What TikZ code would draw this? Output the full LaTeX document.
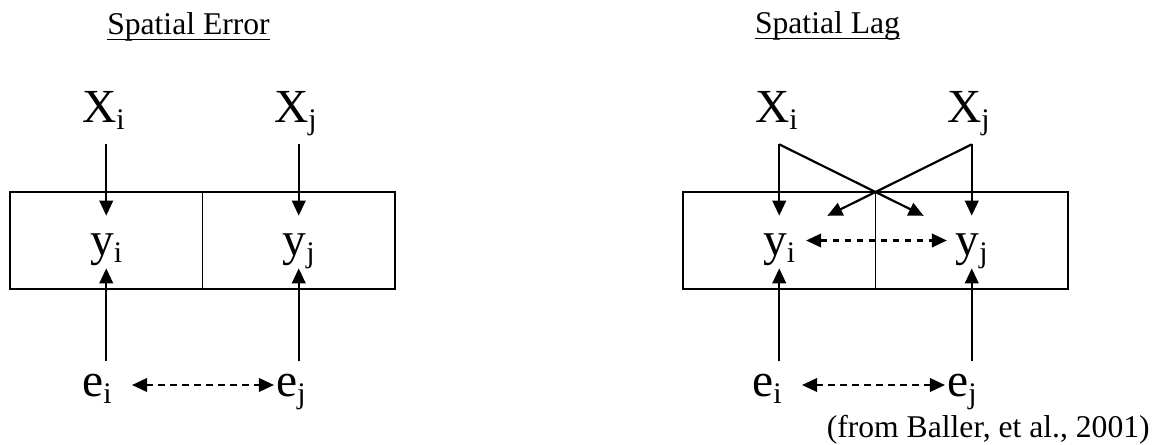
\documentclass[tikz,border=0pt]{standalone}
\usepackage{fontspec}
\setmainfont{Liberation Serif}
\usetikzlibrary{arrows.meta,positioning,calc}
\newcommand{\lowidx}[1]{\raisebox{-4pt}{\fontsize{17}{17}\selectfont #1}}

\begin{document}
\begin{tikzpicture}[>={Triangle[length=3mm, width=2.7mm]},
  var/.style={font=\fontsize{27}{30}\selectfont, inner sep=0pt, anchor=base},
  xvar/.style={var, text depth=0.44cm},
  yvar/.style={var, text height=0.78cm, text depth=0.26cm},
  evar/.style={var, text height=0.70cm},
  cell/.style={draw, line width=1.1pt, minimum width=3.85cm, minimum height=1.94cm,
    inner sep=0pt, outer sep=0pt},
  arr/.style={->, line width=1.25pt},
  darr/.style={<->, line width=1.25pt, dash pattern=on 1.3mm off 1.1mm},
  heading/.style={font=\fontsize{18}{21}\selectfont, inner sep=0pt, anchor=base}]
  \useasboundingbox (0,0) rectangle (23.08,8.88);

  % spatial error
  \node[heading] (tErr) at (3.77,8.2) {Spatial Error};
  \draw[line width=0.9pt] ([yshift=-0.11cm]tErr.base west) -- ([yshift=-0.11cm]tErr.base east);
  \node[cell] (cA) at (2.125,4.07) {};
  \node[cell, right=0pt of cA] (cB) {};
  \node[yvar] (yA) at ([yshift=-0.29cm]cA.center) {y\lowidx{i}};
  \node[yvar] (yB) at ([yshift=-0.29cm]cB.center) {y\lowidx{j}};
  \node[xvar] (XA) at (2.07,6.44) {X\lowidx{i}};
  \node[xvar] (XB) at (5.91,6.44) {X\lowidx{j}};
  \node[evar] (eA) at (1.94,0.96) {e\lowidx{i}};
  \node[evar] (eB) at (5.82,0.96) {e\lowidx{j}};
  \draw[arr] (XA.south -| yA) -- (yA.north);
  \draw[arr] (XB.south -| yB) -- (yB.north);
  \draw[arr] (eA.north -| yA) -- (yA.south);
  \draw[arr] (eB.north -| yB) -- (yB.south);
  \draw[darr, shorten <=0.4cm, shorten >=0.04cm]
    ([yshift=0.22cm]eA.base east) -- ([yshift=0.22cm]eB.base west);

  % spatial lag
  \node[heading] (tLag) at (16.55,8.22) {Spatial Lag};
  \draw[line width=0.9pt] ([yshift=-0.11cm]tLag.base west) -- ([yshift=-0.11cm]tLag.base east);
  \node[cell] (cC) at (15.585,4.07) {};
  \node[cell, right=0pt of cC] (cD) {};
  \node[yvar] (yC) at ([yshift=-0.29cm]cC.center) {y\lowidx{i}};
  \node[yvar] (yD) at ([yshift=-0.29cm]cD.center) {y\lowidx{j}};
  \node[xvar] (XC) at (15.53,6.44) {X\lowidx{i}};
  \node[xvar] (XD) at (19.37,6.44) {X\lowidx{j}};
  \node[evar] (eC) at (15.34,0.96) {e\lowidx{i}};
  \node[evar] (eD) at (19.24,0.96) {e\lowidx{j}};
  \coordinate (topC) at (XC.south -| yC);
  \coordinate (topD) at (XD.south -| yD);
  \draw[arr] (topC) -- (yC.north);
  \draw[arr] (topD) -- (yD.north);
  % crossed influences through the shared border
  \draw[arr] (topC) -- ($(topC)!1.5!(cC.north east)$);
  \draw[arr] (topD) -- ($(topD)!1.5!(cC.north east)$);
  \draw[arr] (eC.north -| yC) -- (yC.south);
  \draw[arr] (eD.north -| yD) -- (yD.south);
  \draw[darr, shorten <=0.21cm, shorten >=0.17cm]
    (yC.east |- cC.center) -- (yD.west |- cC.center);
  \draw[darr, shorten <=0.4cm, shorten >=0.04cm]
    ([yshift=0.22cm]eC.base east) -- ([yshift=0.22cm]eD.base west);

  \node[heading, anchor=base east] (src) at (23.0,0.14) {(from Baller, et al., 2001)};
\end{tikzpicture}
\end{document}
